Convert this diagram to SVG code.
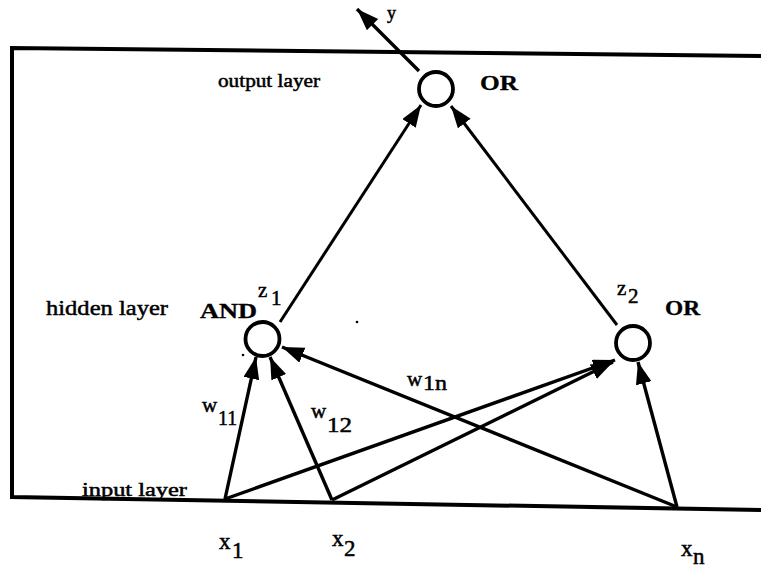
<svg xmlns="http://www.w3.org/2000/svg" width="761" height="569" viewBox="0 0 761 569">
<style>
  text { font-family: "Liberation Serif", "Times New Roman", serif; fill: #000; stroke: #000; stroke-width: 0.5; }
  .lbl { font-size: 20px; }
  .b { font-weight: bold; stroke-width: 0.3; }
  .v { font-size: 23px; }
  .s { font-size: 21px; }
  .node { fill: #fff; stroke: #000; stroke-width: 3.8; }
  .edge { stroke: #000; stroke-width: 3.4; fill: none; marker-end: url(#ah); }
  .frame { stroke: #000; stroke-width: 4; fill: none; }
</style>
<defs>
  <marker id="ah" markerUnits="userSpaceOnUse" markerWidth="24" markerHeight="18" refX="22" refY="8" orient="auto">
    <path d="M0,0 L22,8 L0,16 z" fill="#000"/>
  </marker>
</defs>
<rect width="761" height="569" fill="#fff"/>

<g id="frame">
  <polyline class="frame" points="761,56 12,48 12,497 761,510"/>
  <circle cx="357" cy="322" r="1.3" fill="#000"/>
  <circle cx="243" cy="355" r="1.3" fill="#000"/>
</g>

<g id="connectors">
  <line class="edge" x1="419" y1="71" x2="357" y2="9"/>
  <line class="edge" x1="280" y1="322" x2="421" y2="105" style="stroke-width:3"/>
  <line class="edge" x1="617" y1="325" x2="451" y2="106" style="stroke-width:3"/>
  <line class="edge" x1="225" y1="499" x2="256" y2="357"/>
  <line class="edge" x1="332" y1="500" x2="270" y2="357"/>
  <line class="edge" x1="677" y1="507" x2="282" y2="347"/>
  <line class="edge" x1="225" y1="499" x2="615" y2="360"/>
  <line class="edge" x1="332" y1="500" x2="613" y2="362"/>
  <line class="edge" x1="677" y1="507" x2="638" y2="362"/>
</g>

<g id="output">
  <circle class="node" cx="436" cy="89" r="17"/>
  <text class="lbl b" x="480" y="90" textLength="38" lengthAdjust="spacingAndGlyphs">OR</text>
  <text class="lbl" x="218" y="87" style="font-size:18px" textLength="102" lengthAdjust="spacingAndGlyphs">output layer</text>
  <text x="387" y="19" style="font-size:18px">y</text>
</g>

<g id="z1">
  <circle class="node" cx="262.5" cy="339" r="17"/>
  <text class="lbl b" x="200" y="318" style="font-size:21px" textLength="57" lengthAdjust="spacingAndGlyphs">AND</text>
  <text class="s" x="258" y="297">z</text>
  <text class="s" x="271" y="305">1</text>
  <text class="lbl" x="46" y="315" style="font-size:22px" textLength="122" lengthAdjust="spacingAndGlyphs">hidden layer</text>
</g>

<g id="z2">
  <circle class="node" cx="633" cy="343" r="17"/>
  <text class="lbl b" x="665" y="315" textLength="35" lengthAdjust="spacingAndGlyphs">OR</text>
  <text class="s" x="617" y="295">z</text>
  <text class="s" x="628" y="303">2</text>
</g>

<g id="weights">
  <text class="s" x="202" y="412">w</text>
  <text class="s" x="218" y="425" textLength="19" lengthAdjust="spacingAndGlyphs">11</text>
  <text class="s" x="311" y="418">w</text>
  <text class="s" x="327" y="432" textLength="25" lengthAdjust="spacingAndGlyphs">12</text>
  <text class="s" x="407" y="386">w</text>
  <text class="s" x="423" y="390" textLength="24" lengthAdjust="spacingAndGlyphs">1n</text>
</g>

<g id="x1">
  <text class="lbl" x="82" y="496" style="font-size:19px" textLength="105" lengthAdjust="spacingAndGlyphs">input layer</text>
  <text class="v" x="219" y="549">x</text>
  <text class="v" x="232" y="558">1</text>
</g>
<g id="x2">
  <text class="v" x="332" y="546">x</text>
  <text class="v" x="344" y="556">2</text>
</g>
<g id="xn">
  <text class="v" x="681" y="556">x</text>
  <text class="v" x="693" y="564">n</text>
</g>
</svg>
